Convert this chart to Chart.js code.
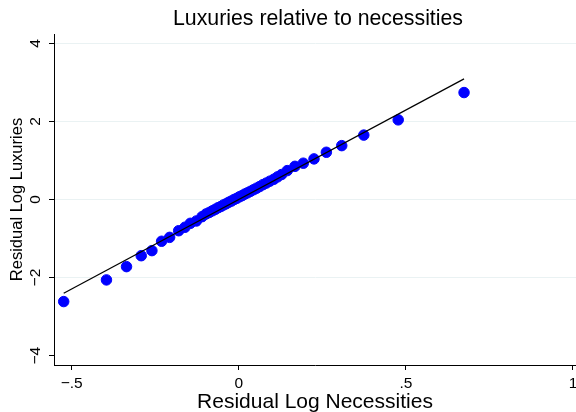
<!DOCTYPE html>
<html>
<head>
<meta charset="utf-8">
<script src="https://cdn.jsdelivr.net/npm/chart.js@4.4.1/dist/chart.umd.min.js"></script>
<style>
html,body{margin:0;padding:0;background:#fff;}
#wrap{width:576px;height:412px;position:relative;}
</style>
</head>
<body>
<div id="wrap"><canvas id="c" width="576" height="412"></canvas></div>
<script>
// Residual Log Necessities (x) and Residual Log Luxuries (y)
const resNecessities = [-0.524,-0.396,-0.336,-0.292,-0.260,-0.231,-0.207,-0.180,-0.161,-0.145,-0.127,-0.110,
  -0.098,-0.088,-0.079,-0.070,-0.062,-0.054,-0.046,-0.038,-0.030,-0.022,-0.014,-0.006,0.002,0.010,0.018,0.026,
  0.035,0.044,0.053,0.062,0.072,0.082,0.093,0.105,0.116,
  0.128,0.145,0.168,0.193,0.225,0.262,0.308,0.374,0.477,0.674];
const resLuxuries = [-2.615,-2.06,-1.72,-1.44,-1.31,-1.07,-0.97,-0.80,-0.71,-0.61,-0.55,-0.44,
  -0.37,-0.33,-0.29,-0.25,-0.21,-0.18,-0.14,-0.11,-0.07,-0.04,0.00,0.03,0.07,0.10,0.14,0.17,
  0.21,0.25,0.29,0.33,0.38,0.42,0.47,0.52,0.58,
  0.64,0.74,0.85,0.93,1.04,1.21,1.38,1.65,2.04,2.74];
// Fitted line endpoints
const fitX = [-0.524, 0.674];
const fitY = [-2.40, 3.09];
const xTicks = [-0.5, 0, 0.5, 1];
const yTicks = [-4, -2, 0, 2, 4];
const xTickLabels = ['\u2212.5', '0', '.5', '1'];
const yTickLabels = ['\u22124', '\u22122', '0', '2', '4'];
const titleText = 'Luxuries relative to necessities';
const xTitle = 'Residual Log Necessities';
const yTitle = 'Residual Log Luxuries';

const scatterPts = resNecessities.map((x, i) => ({x: x, y: resLuxuries[i]}));
const fitPts = fitX.map((x, i) => ({x: x, y: fitY[i]}));

const FONT = "'Liberation Sans', Arial, Helvetica, sans-serif";

// Title centred over the plot region, and y tick labels rotated (bottom to top), as Stata does
const textPlugin = {
  id: 'stataText',
  afterDraw(chart) {
    const y = chart.scales.y;
    const ca = chart.chartArea;
    const ctx = chart.ctx;
    ctx.save();
    ctx.fillStyle = '#000';
    ctx.font = "21.3px " + FONT;
    ctx.textAlign = 'center';
    ctx.textBaseline = 'alphabetic';
    ctx.fillText(titleText, (ca.left + ca.right) / 2 + 3, 25);
    ctx.font = "15.5px " + FONT;
    ctx.textBaseline = 'middle';
    yTicks.forEach((v, i) => {
      const py = y.getPixelForValue(v);
      ctx.save();
      ctx.translate(36, py);
      ctx.rotate(-Math.PI / 2);
      ctx.fillText(yTickLabels[i], 0, 0);
      ctx.restore();
    });
    ctx.restore();
  }
};

new Chart(document.getElementById('c'), {
  type: 'scatter',
  data: {
    datasets: [
      {
        data: scatterPts,
        backgroundColor: '#0000ff',
        borderColor: '#0000ff',
        borderWidth: 1,
        pointRadius: 5.25,
        pointHoverRadius: 5.25,
        order: 2
      },
      {
        type: 'line',
        data: fitPts,
        borderColor: '#000000',
        borderWidth: 1.2,
        pointRadius: 0,
        fill: false,
        showLine: true,
        order: 1
      }
    ]
  },
  plugins: [textPlugin],
  options: {
    responsive: false,
    animation: false,
    devicePixelRatio: 1,
    layout: {padding: {top: 34, left: 0, right: 0, bottom: 0}, autoPadding: false},
    plugins: {
      legend: {display: false},
      tooltip: {enabled: false},
      title: {display: false}
    },
    scales: {
      x: {
        type: 'linear',
        min: -0.553,
        max: 1.009,
        afterBuildTicks: s => { s.ticks = xTicks.map(v => ({value: v})); },
        afterFit: s => { s.height = 47; s.paddingLeft = 0; s.paddingRight = 0; },
        border: {display: true, color: '#000', width: 1},
        grid: {display: true, drawOnChartArea: false, drawTicks: true, tickLength: 5, tickColor: '#000'},
        ticks: {
          color: '#000',
          padding: 4,
          maxRotation: 0,
          minRotation: 0,
          font: {family: FONT, size: 15.5},
          callback: (v) => { const i = xTicks.indexOf(v); return i >= 0 ? xTickLabels[i] : ''; }
        },
        title: {
          display: true,
          text: xTitle,
          color: '#000',
          font: {family: FONT, size: 21, lineHeight: 0.9},
          padding: {top: 0, bottom: 0}
        }
      },
      y: {
        type: 'linear',
        min: -4.24,
        max: 4.24,
        afterBuildTicks: s => { s.ticks = yTicks.map(v => ({value: v})); },
        afterFit: s => { s.width = 54; s.paddingTop = 0; s.paddingBottom = 0; },
        border: {display: true, color: '#000', width: 1},
        grid: {
          display: true,
          drawOnChartArea: true,
          drawTicks: true,
          tickLength: 5,
          tickColor: '#000',
          color: (ctx) => (ctx.tick && ctx.tick.value === -4) ? 'rgba(0,0,0,0)' : '#eaf2f3',
          lineWidth: 1
        },
        ticks: {
          display: false,
          callback: (v) => { const i = yTicks.indexOf(v); return i >= 0 ? yTickLabels[i] : ''; }
        },
        title: {
          display: true,
          text: yTitle,
          color: '#000',
          font: {family: FONT, size: 16.5, lineHeight: 1.2},
          padding: {top: 8, bottom: 0}
        }
      }
    }
  }
});
</script>
</body>
</html>
